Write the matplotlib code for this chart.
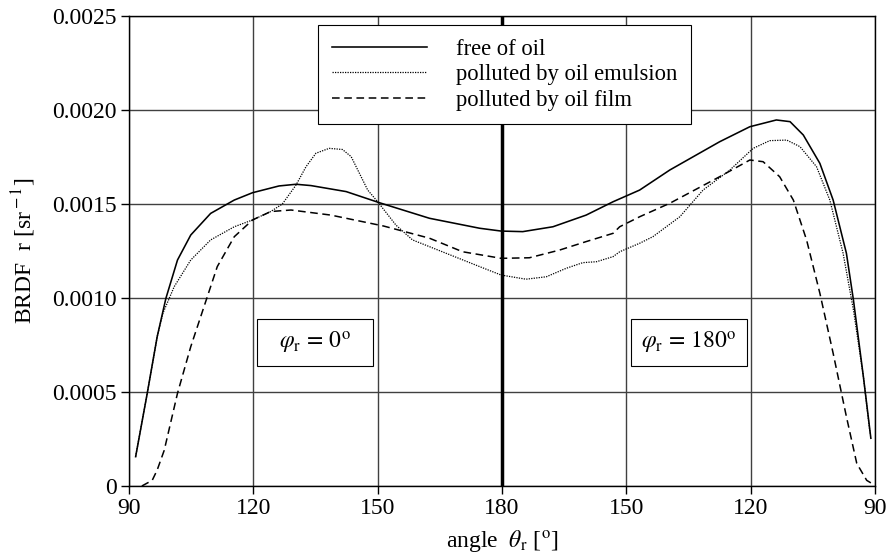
import matplotlib
matplotlib.use('Agg')
from matplotlib import pyplot as plt
from matplotlib.patches import Rectangle

plt.rcParams['font.family'] = ['Liberation Serif', 'DejaVu Serif']
plt.rcParams['mathtext.fontset'] = 'stix'

# position along the axis: 90..180 (phi_r = 0), then 180..270 mirrored (phi_r = 180)
tick_pos = [90, 120, 150, 180, 210, 240, 270]
tick_labels = ['90', '120', '150', '180', '150', '120', '90']
y_ticks = [0, 0.0005, 0.0010, 0.0015, 0.0020, 0.0025]
y_labels = ['0', '0.0005', '0.0010', '0.0015', '0.0020', '0.0025']

free_x = [91.6, 94.4, 96.8, 98.9, 101.7, 104.9, 109.7, 115.4, 119.8, 126.2, 130.3, 133.9,
          142.4, 150.4, 162.5, 174.6, 179.8, 185.0, 192.3, 200.3, 206.8, 213.2, 220.5,
          232.5, 239.8, 246.2, 249.5, 252.7, 256.7, 259.9, 263.1, 264.8, 267.2, 269.0]
free_y = [0.000156, 0.000493, 0.000794, 0.000998, 0.001202, 0.001335, 0.00145, 0.001521,
          0.00156, 0.001596, 0.001605, 0.001598, 0.001566, 0.001507, 0.001424, 0.001371,
          0.001356, 0.001353, 0.001379, 0.001441, 0.001512, 0.001574, 0.001681, 0.001831,
          0.001911, 0.001947, 0.001938, 0.001867, 0.001716, 0.001521, 0.001238, 0.000989,
          0.000581, 0.000254]

emul_x = [91.6, 94.4, 96.8, 98.2, 100.9, 104.9, 109.7, 115.4, 119.8, 124.2, 127.0, 130.3,
          132.7, 135.1, 138.3, 141.5, 143.6, 145.6, 147.6, 150.0, 154.4, 158.4, 166.5,
          174.6, 179.8, 185.8, 190.7, 195.5, 199.5, 202.8, 206.8, 208.4, 213.2, 216.4,
          222.9, 228.5, 235.0, 240.6, 244.6, 248.7, 251.9, 255.9, 259.1, 262.3, 264.8,
          267.2, 268.8]
emul_y = [0.000156, 0.000493, 0.000794, 0.00092, 0.00106, 0.001202, 0.001309, 0.001379,
          0.001415, 0.00146, 0.0015, 0.001601, 0.001698, 0.00177, 0.001796, 0.00179,
          0.001752, 0.001663, 0.001574, 0.001512, 0.001388, 0.001309, 0.001238, 0.001167,
          0.001122, 0.0011, 0.001113, 0.001158, 0.001188, 0.001193, 0.00122, 0.001246,
          0.001291, 0.001326, 0.001432, 0.001574, 0.001681, 0.001796, 0.001837, 0.00184,
          0.001805, 0.001698, 0.001521, 0.001238, 0.000936, 0.000581, 0.00028]

film_x = [93.1, 95.6, 96.8, 98.5, 101.7, 104.9, 108.1, 111.3, 115.4, 119.8, 124.2, 129.1,
          138.7, 151.4, 162.5, 170.5, 179.8, 186.6, 193.9, 200.3, 206.8, 208.4, 213.2,
          220.5, 232.5, 239.8, 243.0, 247.0, 250.3, 253.5, 256.7, 259.9, 263.1, 265.6,
          268.0, 269.5]
film_y = [0.0, 0.00003, 0.000085, 0.00019, 0.000493, 0.000741, 0.000954, 0.001167, 0.001326,
          0.001415, 0.00146, 0.001468, 0.001441, 0.001383, 0.001318, 0.001246, 0.001211,
          0.001214, 0.001255, 0.0013, 0.001344, 0.001379, 0.001432, 0.001504, 0.001645,
          0.001734, 0.001725, 0.001645, 0.001521, 0.001308, 0.001025, 0.000706, 0.000369,
          0.00012, 0.00003, 0.00001]

fig = plt.figure(figsize=(8.88, 5.59), dpi=100)
ax = fig.add_axes([129 / 888, 1 - 486 / 559, 746 / 888, 470 / 559])

ax.plot(free_x, free_y, color='black', lw=1.15, label='free of oil', zorder=3)
ax.plot(emul_x, emul_y, color='black', lw=0.9, ls=(0, (1, 1)),
        label='polluted by oil emulsion', zorder=3)
ax.plot(film_x, film_y, color='black', lw=1.1, ls=(0, (5, 3)),
        label='polluted by oil film', zorder=3)

ax.axvline(180, color='black', lw=2.5, zorder=2)

ax.set_xlim(90, 270)
ax.set_ylim(0, 0.0025)
ax.set_xticks(tick_pos)
ax.set_xticklabels(tick_labels)
ax.set_yticks(y_ticks)
ax.set_yticklabels(y_labels)
ax.tick_params(direction='out', length=6, width=1, labelsize=17, color='black', pad=3)
ax.grid(True, color='0.25', lw=1.0, zorder=0)
ax.set_axisbelow(True)
for s in ax.spines.values():
    s.set_linewidth(1.0)

ax.set_xlabel(r'angle  $\theta_{\rm r}$ [$^{\rm o}$]', fontsize=17, labelpad=6)
ax.set_ylabel(r'BRDF  r [sr$^{\rm -1}$]', fontsize=17, labelpad=10)

leg = ax.legend(loc='upper left', bbox_to_anchor=((318 - 129) / 746, (486 - 25) / 470),
                borderaxespad=0, fontsize=16.3, handlelength=4.2, handletextpad=1.3,
                labelspacing=0.2, borderpad=0.6, fancybox=False, framealpha=1,
                edgecolor='black')
leg.get_frame().set_linewidth(0.8)

# phi_r annotation boxes
for x0, txt in [(0.1716, r'$\varphi_{\rm r}\, = \,0^{\rm o}$'),
                (0.6729, r'$\varphi_{\rm r}\, = \,180^{\rm o}$')]:
    ax.add_patch(Rectangle((x0, 0.2553), 0.1555, 0.1, transform=ax.transAxes,
                           facecolor='white', edgecolor='black', lw=0.8, zorder=4))
    ax.text(x0 + 0.1555 / 2, 0.2553 + 0.05, txt, transform=ax.transAxes,
            ha='center', va='center', fontsize=17, zorder=5)

plt.savefig('out.png', dpi=100)
